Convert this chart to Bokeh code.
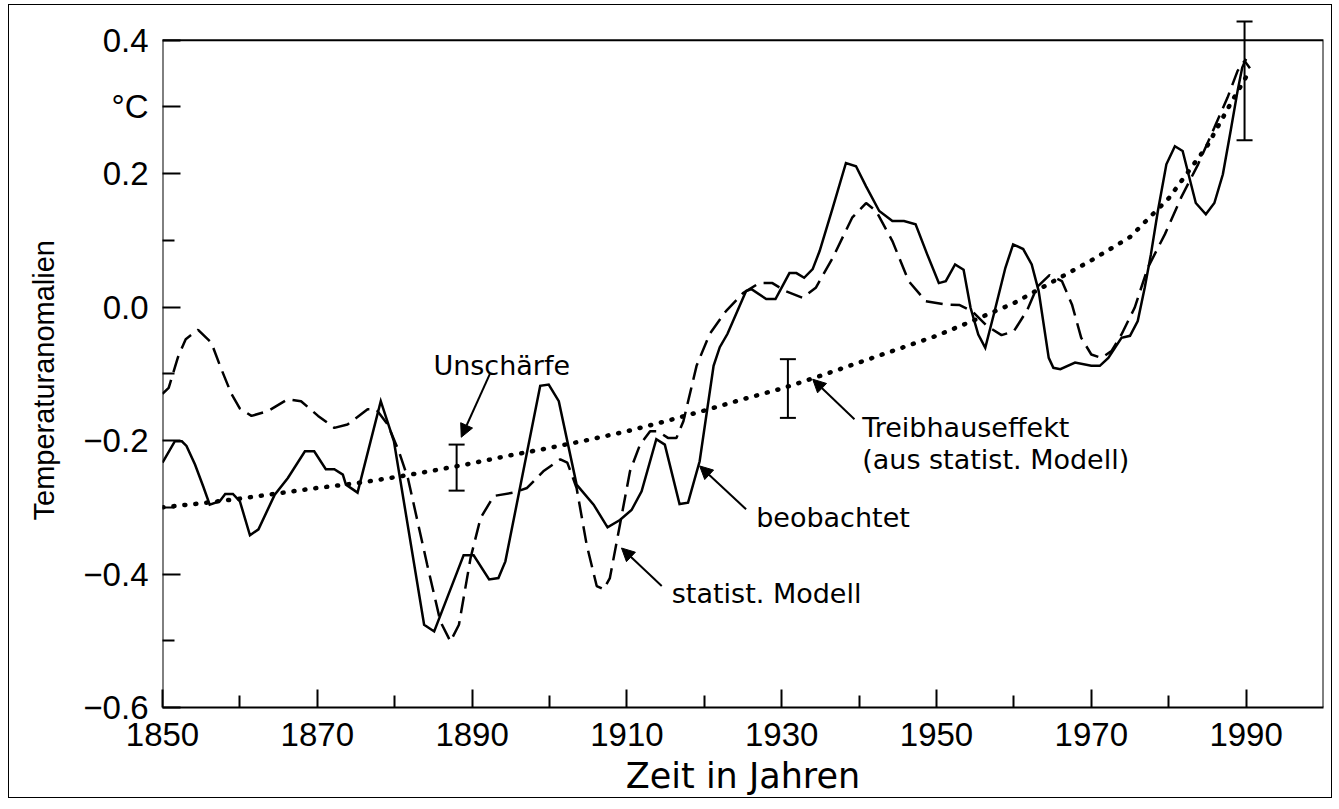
from bokeh.plotting import figure
from bokeh.models import (Range1d, FixedTicker, Label, Arrow, NormalHead,
                          Whisker, TeeHead, ColumnDataSource, Title)
from bokeh.embed import file_html
from bokeh.resources import INLINE

# ---------------- data ----------------
obs_years = [1850.0, 1851.6, 1852.5, 1853.1, 1854.2, 1855.3, 1856.1, 1857.4, 1858.1, 1859.1,
             1860.0, 1861.3, 1862.4, 1864.5, 1866.2, 1868.4, 1869.6, 1871.1, 1872.2, 1873.3,
             1873.7, 1875.2, 1878.2, 1879.9, 1883.8, 1885.1, 1888.1, 1888.9, 1890.2, 1892.2,
             1893.4, 1894.3, 1898.8, 1899.9, 1901.2, 1903.5, 1905.7, 1907.5, 1909.1, 1910.6,
             1911.9, 1913.8, 1914.9, 1916.8, 1917.9, 1919.4, 1921.2, 1922.0, 1923.0, 1925.4,
             1926.1, 1928.0, 1929.2, 1931.0, 1931.9, 1932.9, 1934.0, 1934.9, 1936.6, 1938.3,
             1939.6, 1940.9, 1942.6, 1944.3, 1945.8, 1947.3, 1948.8, 1950.3, 1951.2, 1952.4,
             1953.5, 1954.4, 1955.4, 1956.3, 1957.4, 1958.9, 1959.9, 1961.2, 1962.3, 1963.2,
             1964.5, 1965.1, 1966.0, 1967.9, 1970.0, 1971.1, 1972.2, 1973.9, 1975.0, 1976.0,
             1976.9, 1977.7, 1978.6, 1979.7, 1980.8, 1981.8, 1983.5, 1984.8, 1985.9, 1987.0,
             1988.0, 1988.9, 1989.5, 1990.0]
obs_values = [-0.233, -0.201, -0.201, -0.208, -0.236, -0.270, -0.296, -0.291, -0.280, -0.280,
              -0.291, -0.342, -0.333, -0.281, -0.256, -0.216, -0.216, -0.243, -0.243, -0.251,
              -0.266, -0.278, -0.141, -0.201, -0.476, -0.486, -0.396, -0.372, -0.372, -0.408,
              -0.406, -0.381, -0.118, -0.116, -0.141, -0.266, -0.296, -0.330, -0.319, -0.304,
              -0.276, -0.198, -0.206, -0.295, -0.293, -0.231, -0.088, -0.060, -0.040, 0.024,
              0.027, 0.012, 0.012, 0.051, 0.051, 0.044, 0.057, 0.084, 0.149, 0.216,
              0.211, 0.181, 0.144, 0.129, 0.129, 0.124, 0.079, 0.036, 0.039, 0.064,
              0.056, -0.001, -0.041, -0.061, -0.011, 0.059, 0.094, 0.087, 0.064, 0.024,
              -0.076, -0.091, -0.093, -0.083, -0.088, -0.088, -0.076, -0.046, -0.043, -0.021,
              0.029, 0.079, 0.144, 0.214, 0.241, 0.234, 0.156, 0.139, 0.156, 0.199,
              0.264, 0.324, 0.359, 0.372]

model_years = [1850.0, 1850.8, 1852.0, 1853.0, 1854.6, 1856.3, 1857.5, 1858.9, 1860.0, 1861.5,
               1863.6, 1866.2, 1867.9, 1870.1, 1872.2, 1873.9, 1876.5, 1877.6, 1879.1, 1880.5,
               1881.7, 1884.2, 1885.9, 1887.2, 1888.3, 1889.8, 1891.1, 1892.8, 1895.4, 1897.1,
               1899.2, 1901.4, 1902.3, 1903.5, 1904.8, 1906.1, 1907.0, 1907.8, 1909.1, 1910.4,
               1911.7, 1913.0, 1914.0, 1915.3, 1916.4, 1917.3, 1919.0, 1920.7, 1922.8, 1925.0,
               1927.1, 1928.8, 1930.5, 1932.7, 1934.4, 1936.6, 1939.1, 1940.9, 1942.2, 1944.3,
               1946.4, 1948.6, 1951.2, 1953.0, 1954.6, 1956.5, 1958.4, 1960.0, 1961.7, 1963.0,
               1964.6, 1966.2, 1967.5, 1968.7, 1970.0, 1971.3, 1972.6, 1973.9, 1975.6, 1977.3,
               1979.5, 1981.6, 1983.8, 1985.9, 1987.6, 1988.9, 1989.8, 1990.5]
model_values = [-0.130, -0.121, -0.075, -0.048, -0.034, -0.053, -0.090, -0.130, -0.152, -0.163,
                -0.156, -0.138, -0.141, -0.163, -0.181, -0.176, -0.153, -0.153, -0.176, -0.215,
                -0.256, -0.386, -0.471, -0.501, -0.476, -0.376, -0.316, -0.283, -0.278, -0.271,
                -0.246, -0.228, -0.233, -0.271, -0.356, -0.418, -0.423, -0.406, -0.326, -0.246,
                -0.206, -0.186, -0.186, -0.196, -0.196, -0.171, -0.088, -0.040, -0.006, 0.021,
                0.036, 0.036, 0.024, 0.014, 0.029, 0.074, 0.134, 0.156, 0.144, 0.099,
                0.039, 0.009, 0.004, 0.003, -0.006, -0.028, -0.042, -0.036, -0.005, 0.030,
                0.048, 0.039, 0.004, -0.046, -0.071, -0.076, -0.066, -0.041, -0.001, 0.059,
                0.109, 0.164, 0.214, 0.269, 0.314, 0.354, 0.369, 0.358]

greenhouse_years = [1850, 1855, 1860, 1865, 1870, 1875, 1880, 1885, 1890, 1895, 1900, 1905,
                    1910, 1915, 1920, 1925, 1930, 1935, 1940, 1945, 1950, 1955, 1960, 1965,
                    1970, 1975, 1980, 1985, 1988, 1990]
greenhouse_values = [-0.300, -0.294, -0.287, -0.279, -0.271, -0.264, -0.255, -0.245, -0.234,
                     -0.222, -0.211, -0.199, -0.186, -0.171, -0.155, -0.138, -0.122, -0.103,
                     -0.083, -0.063, -0.043, -0.019, 0.006, 0.038, 0.070, 0.105, 0.163,
                     0.242, 0.305, 0.345]

err_years = [1888.0, 1930.8, 1989.8]
err_low = [-0.275, -0.166, 0.250]
err_high = [-0.206, -0.078, 0.428]

x_major = [1850, 1870, 1890, 1910, 1930, 1950, 1970, 1990]
x_minor = [1860, 1880, 1900, 1920, 1940, 1960, 1980]
y_major = [-0.6, -0.4, -0.2, 0.0, 0.2, 0.3, 0.4]
y_minor = [-0.5, -0.3, -0.1, 0.1]
y_tick_labels = ["\u22120.6", "\u22120.4", "\u22120.2", "0.0", "0.2", "°C", "0.4"]

X_MIN, X_MAX = 1850, 2000
Y_MIN, Y_MAX = -0.6, 0.4

# ---------------- figure ----------------
p = figure(width=1324, height=794,
           x_range=Range1d(X_MIN, X_MAX), y_range=Range1d(Y_MIN, 0.44),
           output_backend="svg", toolbar_location=None,
           min_border_left=152, min_border_right=10, min_border_top=8, min_border_bottom=92)
p.styles = {"margin-left": "8px", "margin-top": "4px", "border": "1px solid black"}
p.outline_line_color = None
p.xgrid.visible = False
p.ygrid.visible = False
p.background_fill_color = "white"
p.border_fill_color = "white"

TICK_FONT = "Liberation Sans"
TEXT_FONT = "DejaVu Sans"

for ax in (p.xaxis[0], p.yaxis[0]):
    ax.major_tick_in = 18
    ax.major_tick_out = 0
    ax.minor_tick_in = 12
    ax.minor_tick_out = 0
    ax.major_tick_line_width = 2
    ax.minor_tick_line_width = 2
    ax.major_tick_line_color = "black"
    ax.minor_tick_line_color = "black"
    ax.axis_line_width = 2
    ax.axis_line_color = "black"
    ax.major_label_text_font = TICK_FONT
    ax.major_label_text_font_size = "33px"
    ax.major_label_text_color = "black"
    ax.axis_label_text_font_style = "normal"
    ax.axis_label_text_color = "black"

p.xaxis.ticker = FixedTicker(ticks=x_major, minor_ticks=x_minor)
p.xaxis.axis_label = "Zeit in Jahren"
p.xaxis.axis_label_text_font = TEXT_FONT
p.xaxis.axis_label_text_font_size = "35px"
p.xaxis.major_label_standoff = 15
p.xaxis.axis_label_standoff = 7

p.yaxis.ticker = FixedTicker(ticks=y_major, minor_ticks=y_minor)
p.yaxis.major_label_overrides = {v: s for v, s in zip(y_major, y_tick_labels)}
p.yaxis.major_label_standoff = 14
p.yaxis.axis_line_color = None

# y-axis title, placed along the -0.6 .. 0.4 span
p.add_layout(Title(text="Temperaturanomalien", align="left", offset=187, standoff=37,
                   vertical_align="top",
                   text_font=TICK_FONT, text_font_size="29px", text_font_style="normal",
                   text_color="black"), "left")

# frame (left, top, right) bounded at the 0.4 level
p.line([X_MIN, X_MIN, X_MAX, X_MAX], [Y_MIN, Y_MAX, Y_MAX, Y_MIN], line_color="black", line_width=2)

# ---------------- series ----------------
p.line(greenhouse_years, greenhouse_values, line_color="black", line_width=4.5,
       line_dash="1 10", line_cap="round")
p.line(model_years, model_values, line_color="black", line_width=2.5, line_dash="17 8")
p.line(obs_years, obs_values, line_color="black", line_width=2.5, line_join="miter")

err_src = ColumnDataSource(dict(x=err_years, lo=err_low, hi=err_high))
p.add_layout(Whisker(source=err_src, base="x", lower="lo", upper="hi", dimension="height",
                     line_color="black", line_width=2,
                     lower_head=TeeHead(size=16, line_color="black", line_width=2),
                     upper_head=TeeHead(size=16, line_color="black", line_width=2)))

# ---------------- annotations ----------------
def txt(x, y, s, **kw):
    p.add_layout(Label(x=x, y=y, text=s, text_font=TEXT_FONT, text_font_size="27px",
                       text_color="black", text_baseline="alphabetic", **kw))

def arr(x0, y0, x1, y1):
    p.add_layout(Arrow(x_start=x0, y_start=y0, x_end=x1, y_end=y1, line_width=2,
                       line_color="black",
                       end=NormalHead(size=13, fill_color="black", line_color="black")))

txt(1885.0, -0.088, "Unschärfe")
arr(1892.3, -0.100, 1888.6, -0.195)

txt(1940.4, -0.181, "Treibhauseffekt")
txt(1940.4, -0.228, "(aus statist. Modell)")
arr(1939.4, -0.168, 1934.0, -0.108)

txt(1926.7, -0.316, "beobachtet")
arr(1925.4, -0.303, 1919.4, -0.238)

txt(1915.8, -0.429, "statist. Modell")
arr(1914.5, -0.418, 1909.3, -0.361)

open("out.html", "w").write(file_html(p, INLINE))
